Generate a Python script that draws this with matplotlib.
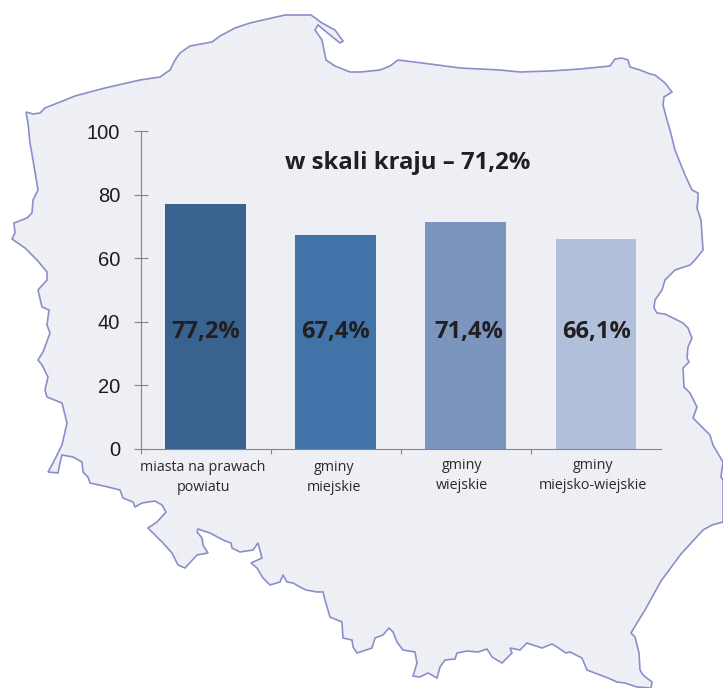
import numpy as np
import matplotlib
matplotlib.use('Agg')
import matplotlib.pyplot as plt
from matplotlib.patches import Polygon

W, H = 723, 688

categories = ['miasta na prawach\npowiatu', 'gminy\nmiejskie', 'gminy\nwiejskie', 'gminy\nmiejsko-wiejskie']
values = [77.2, 67.4, 71.4, 66.1]
value_labels = ['77,2%', '67,4%', '71,4%', '66,1%']
bar_colors = ['#39628f', '#4173a8', '#7c95bf', '#b0c0db']
y_ticks = [0, 20, 40, 60, 80, 100]
title = 'w skali kraju – 71,2%'

# map outline traced in pixels
outline = [
    (26, 112), (33, 114), (40, 113), (45, 108), (75, 96), (105, 88), (140, 80), (160, 77), (170, 70), (175, 60),
    (180, 53), (190, 46), (212, 42), (220, 36), (235, 28), (250, 23), (285, 15), (311, 15), (322, 23), (335, 30),
    (343, 41), (340, 43), (330, 35), (318, 25), (315, 30), (322, 40), (326, 60), (335, 66), (350, 72), (361, 72),
    (380, 70), (390, 66), (398, 60), (430, 64), (460, 68), (500, 70), (520, 72), (550, 71), (580, 69), (610, 66),
    (615, 59), (622, 58), (628, 60), (630, 67), (640, 70), (650, 74), (655, 75), (665, 83), (672, 92), (664, 97),
    (663, 105), (667, 120), (670, 130), (675, 150), (685, 175), (692, 190), (698, 193), (698, 200), (697, 208),
    (701, 220), (703, 250), (695, 260), (690, 265), (675, 270), (665, 280), (662, 290), (655, 300), (654, 308),
    (657, 313), (665, 314), (673, 318), (683, 323), (688, 328), (692, 338), (688, 347), (687, 358), (689, 362),
    (683, 368), (684, 387), (690, 393), (695, 403), (697, 407), (693, 418), (698, 423), (710, 435), (713, 445),
    (723, 462), (721, 477), (723, 480), (723, 522), (712, 525), (703, 530), (681, 554), (661, 581), (645, 610),
    (637, 623), (631, 633), (635, 637), (639, 653), (640, 670), (643, 675), (652, 682), (651, 688), (637, 687),
    (625, 683), (617, 682), (608, 678), (587, 670), (582, 658), (570, 652), (566, 653), (557, 647), (552, 644),
    (542, 648), (527, 643), (520, 650), (510, 648), (512, 653), (502, 663), (492, 657), (487, 649), (478, 652),
    (467, 651), (457, 653), (455, 659), (445, 660), (440, 667), (437, 678), (428, 673), (420, 677), (413, 676),
    (417, 663), (415, 652), (403, 650), (397, 642), (393, 632), (389, 628), (383, 635), (375, 638), (372, 648),
    (360, 652), (357, 653), (353, 647), (352, 640), (343, 638), (342, 622), (330, 617), (325, 600), (323, 592),
    (317, 592), (306, 590), (300, 587), (293, 583), (287, 582), (283, 575), (280, 582), (270, 585), (263, 578),
    (257, 568), (251, 563), (262, 558), (258, 543), (253, 550), (240, 552), (232, 548), (231, 543), (223, 540),
    (210, 533), (198, 529), (197, 532), (202, 538), (203, 545), (208, 553), (197, 555), (185, 568), (178, 565),
    (172, 553), (163, 543), (153, 533), (148, 528), (157, 522), (166, 512), (162, 505), (155, 501), (142, 503),
    (135, 507), (133, 502), (123, 498), (120, 490), (108, 487), (90, 483), (88, 477), (83, 472), (82, 462),
    (73, 457), (62, 455), (60, 463), (58, 473), (48, 472), (53, 463), (62, 445), (67, 423), (62, 403), (47, 397),
    (45, 390), (48, 377), (42, 365), (38, 360), (43, 352), (50, 333), (47, 325), (49, 310), (42, 307), (38, 290),
    (47, 280), (47, 272), (37, 260), (25, 248), (12, 239), (15, 233), (14, 223), (27, 218), (32, 213), (33, 200),
    (38, 190), (33, 160), (30, 143), (28, 123),
]

plt.rcParams['font.family'] = ['Open Sans', 'DejaVu Sans']

fig = plt.figure(figsize=(W / 100, H / 100), dpi=100, facecolor='white')

# background axes in pixels, holds the map
bg = fig.add_axes([0, 0, 1, 1])
bg.set_xlim(0, W)
bg.set_ylim(H, 0)
bg.axis('off')

texture = np.zeros((H, W, 3))
texture[:] = np.array([241, 242, 246]) / 255
texture[:, ::2] = np.array([236, 237, 243]) / 255
im = bg.imshow(texture, extent=(0, W, H, 0), interpolation='nearest', zorder=1, aspect='auto')
shape = Polygon(outline, closed=True, facecolor='none', edgecolor='#8b8fc9', linewidth=1.2, zorder=2)
bg.add_patch(shape)
im.set_clip_path(shape)

# chart axes, x 140.5..661 and y 448.5..131.3 px
x0, x1, y0, y1 = 140.5, 661, 448.5, 131.3
ax = fig.add_axes([x0 / W, 1 - y0 / H, (x1 - x0) / W, (y0 - y1) / H])
ax.patch.set_alpha(0)
x = np.arange(len(values))
ax.bar(x, values, width=0.62, color=bar_colors)
ax.set_xlim(-0.5, 3.5)
ax.set_ylim(0, 100)

for s in ['top', 'right']:
    ax.spines[s].set_visible(False)
for s in ['left', 'bottom']:
    ax.spines[s].set_color('#868686')
    ax.spines[s].set_linewidth(0.8)

ax.set_yticks(y_ticks)
ax.set_yticklabels([str(t) for t in y_ticks], family='Liberation Sans', fontsize=14.5, color='#1c1c1c')
ax.tick_params(axis='y', direction='inout', length=10, width=0.8, color='#868686', pad=9.5)
ax.set_xticks([-0.5, 0.5, 1.5, 2.5])
ax.set_xticklabels([])
ax.tick_params(axis='x', direction='out', length=3.5, width=0.8, color='#868686')

# text placed in pixels on top of everything
top = fig.add_axes([0, 0, 1, 1])
top.set_xlim(0, W)
top.set_ylim(H, 0)
top.axis('off')
top.patch.set_alpha(0)
top.text(407.5, 163, title, ha='center', va='center', fontsize=17.2, fontweight='bold', color='#231f20')

value_x = [205.5, 336, 469, 597]
for vx, lab in zip(value_x, value_labels):
    top.text(vx, 332, lab, ha='center', va='center', fontsize=17, fontweight='bold', color='#231f20')

label_x = [203, 334, 462, 593]
label_y = [477.5, 477.5, 475.5, 475.5]
for lx, ly, cat in zip(label_x, label_y, categories):
    top.text(lx, ly, cat, ha='center', va='center', fontsize=10.3, color='#2a2a2a', linespacing=1.5)

fig.savefig('out.png', dpi=100)
